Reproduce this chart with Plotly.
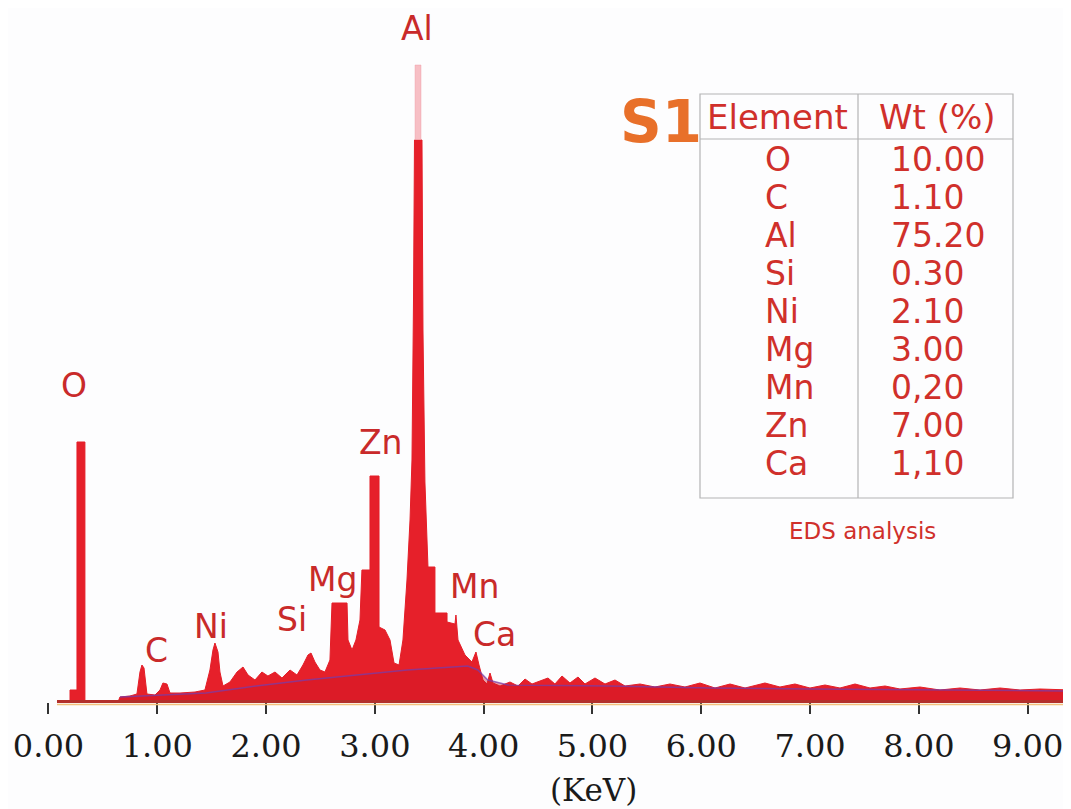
import plotly.graph_objects as go

# ---------------- data ----------------
# EDS spectrum (energy in keV, intensity in counts)
ENERGY_KEV = [
    0.078, 0.198, 0.198, 0.262, 0.262, 0.335, 0.335,
    0.639, 0.657, 0.749, 0.813, 0.841, 0.859, 0.878, 0.905, 0.979, 1.025, 1.052, 1.089, 1.117,
    1.209, 1.347, 1.438, 1.484, 1.512, 1.530, 1.558, 1.576, 1.604, 1.668, 1.733, 1.788, 1.834,
    1.898, 1.962, 2.017, 2.082, 2.146, 2.220, 2.284, 2.339, 2.385, 2.413, 2.449, 2.495, 2.541,
    2.587, 2.606, 2.744, 2.753, 2.790, 2.826, 2.863, 2.881, 2.955, 2.955, 3.038, 3.038, 3.093,
    3.139, 3.176, 3.222, 3.258, 3.295, 3.323, 3.341, 3.355, 3.364, 3.433, 3.442, 3.460, 3.479,
    3.488, 3.552, 3.552, 3.663, 3.663, 3.736, 3.745, 3.764, 3.828, 3.892, 3.929, 3.957, 3.994,
    4.030, 4.058, 4.086, 4.150, 4.242, 4.315, 4.380, 4.444, 4.517, 4.591, 4.655, 4.720, 4.793,
    4.867, 4.931, 5.023, 5.115, 5.207, 5.299, 5.437, 5.574, 5.712, 5.850, 5.988, 6.126, 6.264,
    6.402, 6.585, 6.723, 6.861, 6.999, 7.137, 7.275, 7.413, 7.551, 7.689, 7.826, 8.010, 8.194,
    8.378, 8.562, 8.746, 8.929, 9.113, 9.398,
]
COUNTS = [
    0, 0, 120, 120, 2600, 2600, 0,
    0, 50, 60, 80, 300, 370, 340, 80, 70, 120, 190, 180, 90,
    90, 100, 120, 320, 520, 590, 500, 300, 160, 200, 300, 350, 270,
    220, 300, 260, 300, 240, 320, 270, 370, 470, 490, 400, 320, 300,
    420, 990, 990, 620, 520, 620, 820, 1320, 1320, 2260, 2260, 750, 720,
    620, 390, 370, 620, 1220, 1820, 2420, 4020, 5620, 5620, 3720, 2200, 1600,
    1350, 1350, 890, 890, 800, 780, 870, 620, 470, 400, 500, 370, 220,
    180, 290, 190, 160, 200, 160, 230, 180, 210, 240, 180, 260, 190,
    250, 180, 240, 180, 220, 160, 180, 150, 180, 150, 190, 140, 180,
    140, 190, 150, 180, 140, 170, 140, 180, 140, 160, 130, 150, 120,
    140, 120, 140, 120, 130, 120,
]
# faint tip of the Al peak
AL_TIP_KEV = [3.369, 3.369, 3.424, 3.424]
AL_TIP_COUNTS = [5620, 6370, 6370, 5620]

# fitted background (bremsstrahlung) line
BG_KEV = [0.657, 1.448, 1.910, 2.373, 2.836, 3.298, 3.853, 3.946, 4.038, 4.223,
          5.149, 6.074, 6.999, 7.924, 9.398]
BG_COUNTS = [50, 90, 160, 220, 270, 320, 360, 320, 220, 170,
             160, 140, 130, 120, 110]

TICK_VALUES = [0, 1, 2, 3, 4, 5, 6, 7, 8, 9]
TICK_LABELS = ["0.00", "1.00", "2.00", "3.00", "4.00", "5.00", "6.00", "7.00", "8.00", "9.00"]

PEAK_NAMES = ["O", "C", "Ni", "Si", "Mg", "Zn", "Al", "Mn", "Ca"]

TABLE_ELEMENTS = ["O", "C", "Al", "Si", "Ni", "Mg", "Mn", "Zn", "Ca"]
TABLE_WT = ["10.00", "1.10", "75.20", "0.30", "2.10", "3.00", "0,20", "7.00", "1,10"]

# ---------------- layout helpers ----------------
OFF = 8                 # page body margin of the browser
W, H = 1071 - OFF, 809 - OFF
BASE_Y = 702            # pixel row (in the page) of zero counts
PLOT_H = BASE_Y - OFF


def px(x):
    """page pixel x -> paper x"""
    return (x - OFF) / W


def py(y):
    """page pixel y -> paper y"""
    return (BASE_Y - y) / PLOT_H


LABEL_POS = {  # page pixel centres of the peak labels
    "O": (74, 385), "C": (156, 650), "Ni": (211, 626), "Si": (292, 619),
    "Mg": (332, 579), "Zn": (381, 442), "Al": (417, 29), "Mn": (474, 586),
    "Ca": (494, 634),
}

RED_TXT = "#c92a2a"
TAB_TXT = "#d0302b"

fig = go.Figure()

fig.add_trace(go.Scatter(
    x=ENERGY_KEV, y=COUNTS, mode="lines", fill="tozeroy",
    line=dict(color="#e41e28", width=1), fillcolor="#e6202a",
    hoverinfo="skip", showlegend=False))

fig.add_trace(go.Scatter(
    x=AL_TIP_KEV, y=AL_TIP_COUNTS, mode="lines", fill="toself",
    line=dict(color="rgba(240,150,160,0.8)", width=0.5),
    fillcolor="rgba(244,170,178,0.75)", hoverinfo="skip", showlegend=False))

fig.add_trace(go.Scatter(
    x=BG_KEV, y=BG_COUNTS, mode="lines", fill="tozeroy",
    line=dict(color="rgba(120,60,170,0.75)", width=1.5),
    fillcolor="rgba(205,20,35,0.4)", hoverinfo="skip", showlegend=False))

annotations = []
for name in PEAK_NAMES:
    x, y = LABEL_POS[name]
    annotations.append(dict(
        x=px(x), y=py(y), xref="paper", yref="paper", text=name, showarrow=False,
        xanchor="center", yanchor="middle",
        font=dict(family="DejaVu Sans", size=33, color=RED_TXT)))

# table
annotations.append(dict(x=px(777), y=py(117), xref="paper", yref="paper", text="Element",
                        showarrow=False, xanchor="center", yanchor="middle",
                        font=dict(family="DejaVu Sans", size=34, color=TAB_TXT)))
annotations.append(dict(x=px(937), y=py(117), xref="paper", yref="paper", text="Wt (%)",
                        showarrow=False, xanchor="center", yanchor="middle",
                        font=dict(family="DejaVu Sans", size=34, color=TAB_TXT)))
for i, (el, wt) in enumerate(zip(TABLE_ELEMENTS, TABLE_WT)):
    yy = 160 + i * 37.9
    annotations.append(dict(x=px(763), y=py(yy), xref="paper", yref="paper", text=el,
                            showarrow=False, xanchor="left", yanchor="middle",
                            font=dict(family="DejaVu Sans", size=33, color=TAB_TXT)))
    annotations.append(dict(x=px(889), y=py(yy), xref="paper", yref="paper", text=wt,
                            showarrow=False, xanchor="left", yanchor="middle",
                            font=dict(family="DejaVu Sans", size=33, color=TAB_TXT)))

annotations.append(dict(x=px(661), y=py(122), xref="paper", yref="paper", text="<b>S1</b>",
                        showarrow=False, xanchor="center", yanchor="middle",
                        font=dict(family="DejaVu Sans", size=58, color="#e8702a")))
annotations.append(dict(x=px(862), y=py(531), xref="paper", yref="paper", text="EDS analysis",
                        showarrow=False, xanchor="center", yanchor="middle",
                        font=dict(family="DejaVu Sans", size=23, color=TAB_TXT)))
annotations.append(dict(x=px(593), y=py(790), xref="paper", yref="paper", text="(KeV)",
                        showarrow=False, xanchor="center", yanchor="middle",
                        font=dict(family="DejaVu Serif", size=31, color="#1a1a1a")))

grey = "#b4b4b4"
shapes = [
    dict(type="rect", xref="paper", yref="paper", x0=px(700), x1=px(1013), y0=py(498), y1=py(94),
         line=dict(color=grey, width=1.2), layer="above"),
    dict(type="line", xref="paper", yref="paper", x0=px(700), x1=px(1013), y0=py(139), y1=py(139),
         line=dict(color=grey, width=1.2)),
    dict(type="line", xref="paper", yref="paper", x0=px(858), x1=px(858), y0=py(498), y1=py(94),
         line=dict(color=grey, width=1.2)),
    # x-axis base line
    dict(type="line", xref="paper", yref="paper", x0=px(57), x1=1, y0=py(704.5), y1=py(704.5),
         line=dict(color="#f3c27c", width=1.5), layer="above"),
    dict(type="line", xref="paper", yref="paper", x0=px(57), x1=1, y0=py(701.5), y1=py(701.5),
         line=dict(color="#b3302c", width=3), layer="above"),
]

fig.update_layout(
    width=W, height=H,
    margin=dict(l=0, r=0, t=0, b=H - PLOT_H),
    paper_bgcolor="#fdfdfe", plot_bgcolor="#fdfdfe",
    annotations=annotations, shapes=shapes,
    showlegend=False,
    xaxis=dict(range=[-0.372, 9.398], showgrid=False, zeroline=False, showline=False,
               tickmode="array", tickvals=TICK_VALUES, ticktext=TICK_LABELS,
               ticks="outside", ticklen=11, tickwidth=2, tickcolor="#333333",
               tickfont=dict(family="DejaVu Serif", size=32, color="#1a1a1a"),
               ticklabelstandoff=5),
    yaxis=dict(range=[0, PLOT_H * 10], visible=False, showgrid=False, zeroline=False),
)

fig.write_html("out.html")
